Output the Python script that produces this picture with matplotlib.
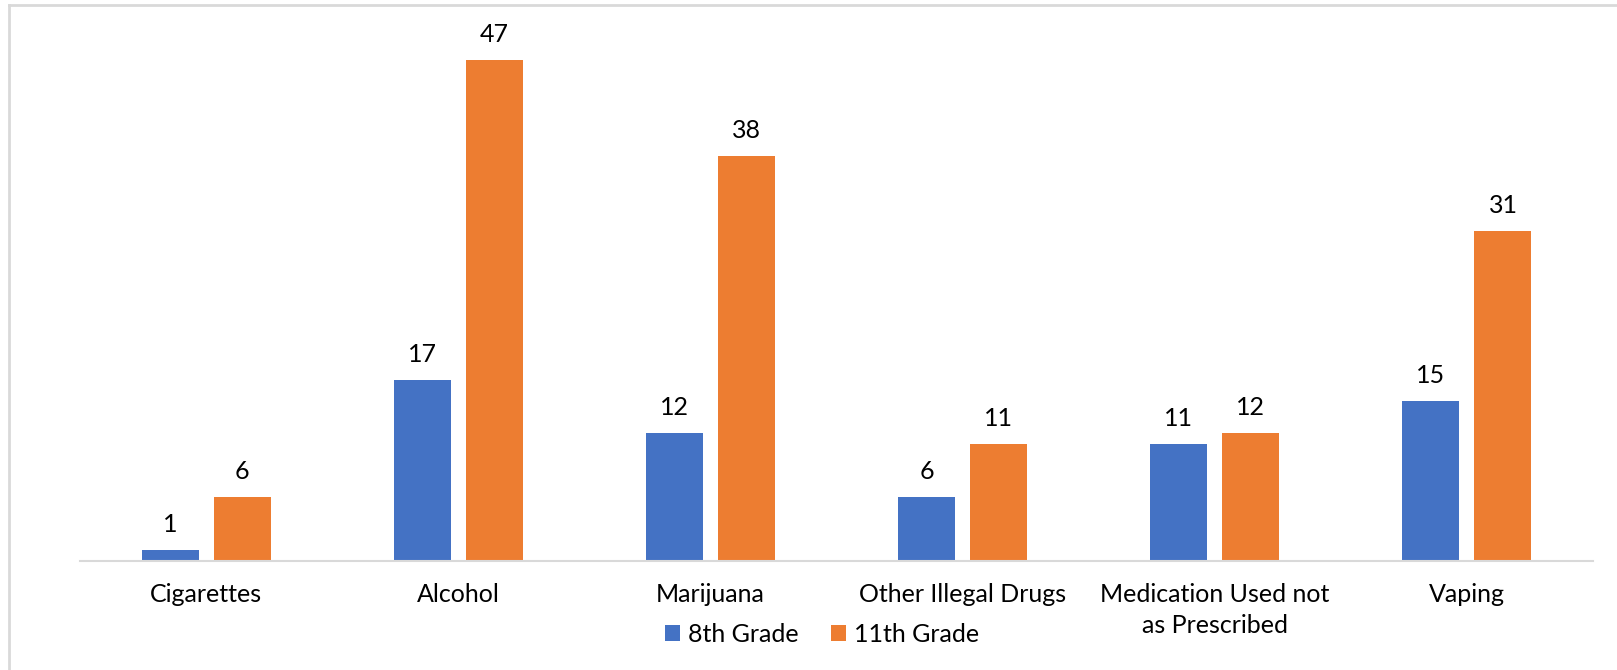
import matplotlib
matplotlib.use("Agg")
import matplotlib.pyplot as plt
import numpy as np
from matplotlib.lines import Line2D

# data
categories = ["Cigarettes", "Alcohol", "Marijuana", "Other Illegal Drugs",
              "Medication Used not\nas Prescribed", "Vaping"]
grade_8 = [1, 17, 12, 6, 11, 15]
grade_11 = [6, 47, 38, 11, 12, 31]

blue = "#4472C4"
orange = "#ED7D31"
grid_grey = "#D9D9D9"

plt.rcParams['font.family'] = ['Lato', 'DejaVu Sans']
fs = 18

fig = plt.figure(figsize=(16.17, 6.7), dpi=100)
ax = fig.add_axes([80 / 1617, 109 / 670, (1593 - 80) / 1617, 533 / 670])

x = np.arange(len(categories))
w = 0.226
off = 0.143
b1 = ax.bar(x - off, grade_8, w, color=blue, label="8th Grade")
b2 = ax.bar(x + off, grade_11, w, color=orange, label="11th Grade")

for bars in (b1, b2):
    for bar in bars:
        h = bar.get_height()
        ax.annotate(str(int(h)), (bar.get_x() + bar.get_width() / 2, h),
                    xytext=(0, 10), textcoords="offset points",
                    ha="center", va="bottom", fontsize=fs, color="black")

ax.set_xlim(-0.5, len(categories) - 0.5)
ax.set_ylim(0, 50)
ax.set_xticks(x)
ax.set_xticklabels(categories, fontsize=fs, color="black", linespacing=1.42)
ax.tick_params(axis="x", length=0, pad=15.5)
ax.set_yticks([])
for s in ["top", "right", "left"]:
    ax.spines[s].set_visible(False)
ax.spines["bottom"].set_color(grid_grey)
ax.spines["bottom"].set_linewidth(1.5)

fig.legend(handles=[b1, b2], loc="center", bbox_to_anchor=(822 / 1617, 1 - 634 / 670),
           ncol=2, frameon=False, fontsize=fs, handlelength=0.6, handleheight=0.6,
           handletextpad=0.3, columnspacing=1.3, borderpad=0)

# light frame at top and left edges
fig.add_artist(Line2D([9 / 1617, 1], [1 - 5 / 670, 1 - 5 / 670], color=grid_grey, lw=2,
                      transform=fig.transFigure))
fig.add_artist(Line2D([9 / 1617, 9 / 1617], [0, 1 - 5 / 670], color=grid_grey, lw=2,
                      transform=fig.transFigure))

fig.savefig("out.png", dpi=100, facecolor="white")
